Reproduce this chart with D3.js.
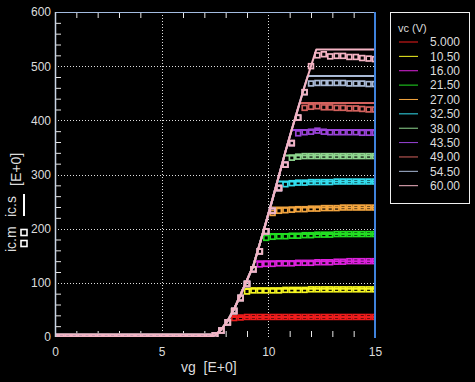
<!DOCTYPE html>
<html><head><meta charset="utf-8">
<script src="https://cdn.jsdelivr.net/npm/d3@7"></script>
<style>html,body{margin:0;background:#000;}svg{display:block;}</style>
</head><body>
<svg id="chart" width="475" height="382"></svg>
<script>
// ---------- data ----------
const vcLabels = ["5.000","10.50","16.00","21.50","27.00","32.50","38.00","43.50","49.00","54.50","60.00"];
const xTickLabels = [0,5,10,15];
const yTickLabels = [0,100,200,300,400,500,600];

// measured grid (vg, step 0.3)
const vgMeas = [0,0.3,0.6,0.9,1.2,1.5,1.8,2.1,2.4,2.7,3,3.3,3.6,3.9,4.2,4.5,4.8,5.1,5.4,5.7,6,6.3,6.6,6.9,
  7.2,7.5,7.8,8.1,8.4,8.7,9,9.3,9.6,9.9,10.2,10.5,10.8,11.1,11.4,11.7,12,12.3,12.6,12.9,13.2,13.5,13.8,14.1,14.4,14.7,15];

const icM_05 = [0,0,0,0,0,0,0,0, 0,0,0,0,0,0,0,0, 0,0,0,0,0,0,0,0,
  0,3,12,27,35,36,37,37,37,37,37,37,37,37,37,37,37,37,37,37,37,37,37,37,37,37,37];
const icM_10 = [0,0,0,0,0,0,0,0, 0,0,0,0,0,0,0,0, 0,0,0,0,0,0,0,0,
  0,3,12,27,48,72,84,86,86,86,86,86,87,87,87,87,88,88,88,88,88,88,88,88,88,88,88];
const icM_16 = [0,0,0,0,0,0,0,0, 0,0,0,0,0,0,0,0, 0,0,0,0,0,0,0,0,
  0,3,12,27,48,72,98,125,134,135,135,136,136,136,137,137,137,138,138,138,139,139,140,140,140,140,140];
const icM_21 = [0,0,0,0,0,0,0,0, 0,0,0,0,0,0,0,0, 0,0,0,0,0,0,0,0,
  0,3,12,27,48,72,98,125,158,183,185,186,186,187,187,188,188,189,189,189,190,190,190,190,190,190,190];
const icM_27 = [0,0,0,0,0,0,0,0, 0,0,0,0,0,0,0,0, 0,0,0,0,0,0,0,0,
  0,3,12,27,48,72,98,125,158,195,229,233,234,235,236,236,237,237,238,238,238,239,239,239,239,239,239];
const icM_32 = [0,0,0,0,0,0,0,0, 0,0,0,0,0,0,0,0, 0,0,0,0,0,0,0,0,
  0,3,12,27,48,72,98,125,158,195,233,275,282,284,285,285,286,286,286,286,287,287,287,287,287,287,287];
const icM_38 = [0,0,0,0,0,0,0,0, 0,0,0,0,0,0,0,0, 0,0,0,0,0,0,0,0,
  0,3,12,27,48,72,98,125,158,195,233,275,318,331,333,334,334,334,334,334,334,334,334,334,334,334,334];
const icM_43 = [0,0,0,0,0,0,0,0, 0,0,0,0,0,0,0,0, 0,0,0,0,0,0,0,0,
  0,3,12,27,48,72,98,125,158,195,233,275,318,358,376,378,379,381,379,378,378,378,378,378,377,377,377];
const icM_49 = [0,0,0,0,0,0,0,0, 0,0,0,0,0,0,0,0, 0,0,0,0,0,0,0,0,
  0,3,12,27,48,72,98,125,158,195,233,275,318,358,405,423,425,426,424,424,423,423,422,422,421,420,420];
const icM_54 = [0,0,0,0,0,0,0,0, 0,0,0,0,0,0,0,0, 0,0,0,0,0,0,0,0,
  0,3,12,27,48,72,98,125,158,195,233,275,318,358,405,452,468,469,469,469,469,469,468,468,468,467,467];
const icM_60 = [0,0,0,0,0,0,0,0, 0,0,0,0,0,0,0,0, 0,0,0,0,0,0,0,0,
  0,3,12,27,48,72,98,125,158,195,233,275,318,358,405,452,500,520,522,518,519,519,517,517,515,514,513];

// simulated: common rising part, then each curve flattens at its knee
const simRiseVg = [0,7.2,7.5,7.8,8.1,8.4,8.7,9.0,9.3,9.6,9.9,10.2,10.5,10.8,11.1,11.4,11.7,12.0];
const simRiseIc = [0,0,3,14,30,52,78,105,132,172,213,255,298,342,383,423,463,500];
const simKneeVg = [8.2,8.82,9.36,9.73,10.09,10.42,10.75,11.09,11.47,11.85,12.25];
const simSat    = [37,89,140,190,239,287,335,382,432,482,531];

const measSeries = [icM_05,icM_10,icM_16,icM_21,icM_27,icM_32,icM_38,icM_43,icM_49,icM_54,icM_60];
const colors = ["#ee1c1c","#f5f522","#dd22dd","#22dd22","#f4a640","#33ddee","#8fd68f","#9a44d8","#d4625e","#a9bad6","#f4b4c4"];

// ---------- drawing ----------
const svg = d3.select("#chart");
const W = 475, H = 382;
const L = 55, R = 375, T = 12, B = 337;
const x = d3.scaleLinear().domain([0,15]).range([L,R]);
const y = d3.scaleLinear().domain([0,600]).range([B,T]);
const font = "'Liberation Sans', Arial, sans-serif";
const txt = "#dcdcdc";

svg.append("rect").attr("width",W).attr("height",H).attr("fill","#000");

// grid
const grid = svg.append("g").attr("stroke","#e0e0e0").attr("stroke-width",1).attr("stroke-dasharray","1,2");
[5,10].forEach(v=>grid.append("line").attr("x1",Math.round(x(v))+0.5).attr("x2",Math.round(x(v))+0.5).attr("y1",T).attr("y2",B));
[100,200,300,400,500].forEach(v=>grid.append("line").attr("y1",Math.round(y(v))+0.5).attr("y2",Math.round(y(v))+0.5).attr("x1",L).attr("x2",R));

// minor ticks
const minorX = d3.range(1,15).filter(v=>v%5!==0);
const minorY = d3.range(20,600,20).filter(v=>v%100!==0);
function styleAxis(g){ g.select(".domain").remove(); g.selectAll("line").attr("stroke","#e8e8e8").attr("stroke-width",1); g.selectAll("text").remove(); }
svg.append("g").attr("transform",`translate(0,${B})`).call(d3.axisBottom(x).tickValues(minorX).tickSize(-6)).call(styleAxis);
svg.append("g").attr("transform",`translate(0,${T})`).call(d3.axisTop(x).tickValues(minorX).tickSize(-6)).call(styleAxis);
svg.append("g").attr("transform",`translate(${L},0)`).call(d3.axisLeft(y).tickValues(minorY).tickSize(-6)).call(styleAxis);

// tick labels via axes
const xa = svg.append("g").attr("transform",`translate(0,${B})`).call(d3.axisBottom(x).tickValues(xTickLabels).tickSize(0).tickPadding(10).tickFormat(d3.format("d")));
xa.select(".domain").remove();
xa.selectAll("text").attr("fill",txt).style("font-family",font).style("font-size","12px");
const ya = svg.append("g").attr("transform",`translate(${L},0)`).call(d3.axisLeft(y).tickValues(yTickLabels).tickSize(0).tickPadding(4).tickFormat(d3.format("d")));
ya.select(".domain").remove();
ya.selectAll("text").attr("fill",txt).style("font-family",font).style("font-size","12px");

// clip
svg.append("clipPath").attr("id","clip").append("rect").attr("x",L).attr("y",T).attr("width",R-L).attr("height",B-T);
const plot = svg.append("g").attr("clip-path","url(#clip)");

const line = d3.line().x(d=>x(d[0])).y(d=>y(d[1]));
measSeries.forEach((ser,si)=>{
  const pts = [];
  simRiseVg.forEach((v,i)=>{ if(v < simKneeVg[si]) pts.push([v, simRiseIc[i]]); });
  pts.push([simKneeVg[si], simSat[si]]);
  pts.push([15, simSat[si]]);
  plot.append("path").datum(pts).attr("d",line).attr("fill","none")
    .attr("stroke",colors[si]).attr("stroke-width",2).attr("stroke-linejoin","round");
  plot.append("g").selectAll("rect").data(d3.zip(vgMeas, ser)).join("rect")
    .attr("x",d=>x(d[0])-2.4).attr("y",d=>y(d[1])-2.4).attr("width",4.8).attr("height",4.8)
    .attr("fill","none").attr("stroke",colors[si]).attr("stroke-width",1.7);
});

// frame
svg.append("line").attr("x1",L).attr("x2",R).attr("y1",T+0.5).attr("y2",T+0.5).attr("stroke","#a4bce0").attr("stroke-width",1);
svg.append("line").attr("x1",L+0.5).attr("x2",L+0.5).attr("y1",T).attr("y2",B).attr("stroke","#c8d4e4").attr("stroke-width",1.5);
svg.append("line").attr("x1",R).attr("x2",R).attr("y1",T).attr("y2",B+1).attr("stroke","#3f82dc").attr("stroke-width",2);

// axis titles
svg.append("text").attr("x",181).attr("y",372).attr("fill",txt).style("font-family",font).style("font-size","14px")
  .style("white-space","pre").text("vg  [E+0]");
svg.append("text").attr("transform","translate(16,252) rotate(-90)").attr("fill",txt).style("font-family",font).style("font-size","14px").text("ic.m");
svg.append("text").attr("transform","translate(16,217) rotate(-90)").attr("fill",txt).style("font-family",font).style("font-size","14px").text("ic.s");
svg.append("text").attr("transform","translate(21,186) rotate(-90)").attr("fill",txt).style("font-family",font).style("font-size","14px").text("[E+0]");
[232.5,243.5].forEach(cy=>svg.append("rect").attr("x",21).attr("y",cy-3).attr("width",6).attr("height",6)
  .attr("fill","none").attr("stroke","#fff").attr("stroke-width",1.6));
svg.append("line").attr("x1",24).attr("x2",24).attr("y1",194).attr("y2",216).attr("stroke","#fff").attr("stroke-width",2);

// legend
const lg = svg.append("g");
lg.append("rect").attr("x",390.5).attr("y",12.5).attr("width",79).attr("height",191).attr("fill","none").attr("stroke","#f0f0f0").attr("stroke-width",1);
lg.append("text").attr("x",398).attr("y",32).attr("fill",txt).style("font-family",font).style("font-size","11px").text("vc (V)");
vcLabels.forEach((lab,i)=>{
  const yy = 42 + i*14.37;
  lg.append("line").attr("x1",399).attr("x2",418).attr("y1",yy).attr("y2",yy).attr("stroke",colors[i]).attr("stroke-width",1);
  lg.append("text").attr("x",430).attr("y",yy).attr("dy","0.36em").attr("fill",txt).style("font-family",font).style("font-size","12px").text(lab);
});
</script>
</body></html>
